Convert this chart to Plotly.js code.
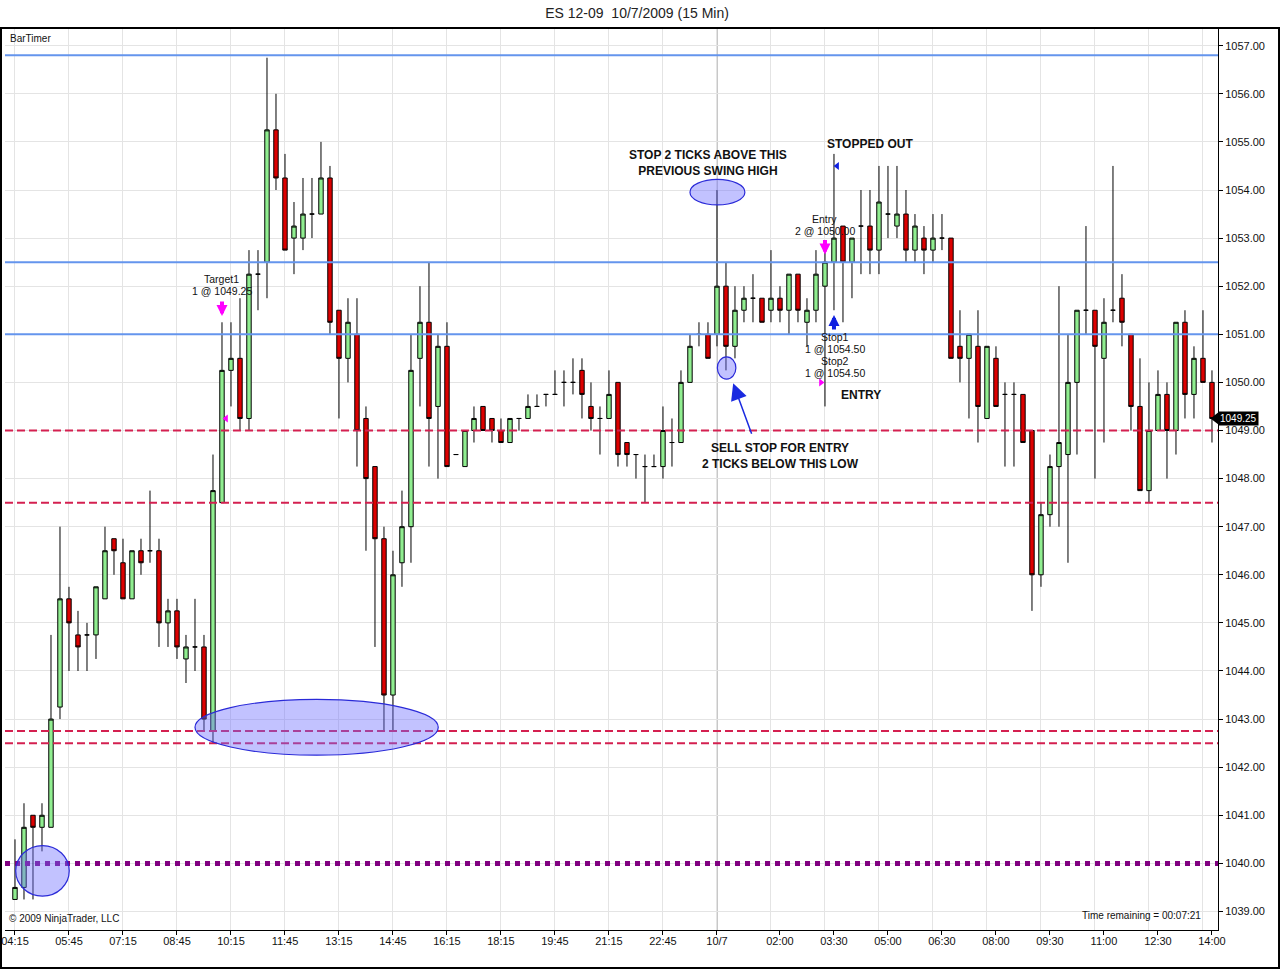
<!DOCTYPE html>
<html><head><meta charset="utf-8">
<script src="https://cdn.plot.ly/plotly-3.0.1.min.js"></script>
<style>html,body{margin:0;padding:0;background:#fff}#chart{width:1280px;height:970px}</style>
</head><body><div id="chart"></div>
<script>
// ---- OHLC data (15 min bars) ----
const openP = [
1039.25,1039.5,1041.0,1040.75,1040.75,1043.25,1045.5,1044.75,1044.75,1044.75,
1045.5,1046.75,1046.25,1045.5,1046.5,1046.5,1046.5,1045.0,1045.25,1044.25,
1044.5,1044.5,1042.75,1047.5,1050.25,1050.5,1049.25,1052.25,1052.5,1055.25,
1054.25,1053.0,1053.0,1053.5,1053.5,1054.25,1051.5,1050.5,1051.0,1049.25,
1048.25,1046.75,1043.5,1046.25,1047.0,1050.5,1051.25,1049.5,1050.75,1048.5,
1048.25,1049.0,1049.5,1049.25,1049.0,1048.75,1049.25,1049.25,1049.5,1049.75,
1049.75,1050.0,1050.0,1050.25,1049.5,1049.25,1049.25,1050.0,1048.75,1048.5,
1048.25,1048.25,1048.25,1048.75,1048.75,1050.0,1051.0,1051.0,1051.0,1052.0,
1050.75,1051.5,1051.75,1051.75,1051.5,1051.75,1051.5,1052.25,1051.25,1051.5,
1052.0,1052.5,1053.25,1052.5,1053.25,1053.25,1052.75,1053.5,1053.25,1053.5,
1052.75,1053.0,1052.75,1053.0,1053.0,1050.75,1050.5,1050.75,1049.25,1050.5,
1049.75,1049.75,1049.75,1049.0,1046.0,1047.25,1048.25,1048.5,1050.0,1051.5,
1051.5,1050.5,1051.5,1051.75,1051.0,1049.5,1047.75,1049.0,1049.75,1049.0,
1051.25,1049.75,1050.5,1050.0];
const highP = [
1040.5,1041.25,1041.0,1041.25,1044.75,1047.0,1045.75,1045.25,1045.0,1045.75,
1047.0,1046.75,1046.75,1046.5,1046.75,1047.75,1046.75,1045.5,1045.5,1044.75,
1045.5,1044.75,1048.5,1051.25,1051.25,1051.75,1052.75,1052.75,1056.75,1056.0,
1054.75,1053.75,1054.25,1054.25,1055.0,1054.5,1051.5,1051.75,1051.75,1049.5,
1048.25,1047.0,1046.5,1047.75,1051.0,1052.0,1052.5,1051.0,1051.25,1048.5,
1049.0,1049.5,1049.5,1049.25,1049.25,1049.25,1049.25,1049.75,1049.75,1049.75,
1050.25,1050.25,1050.5,1050.5,1050.0,1049.5,1050.25,1050.0,1048.75,1048.5,
1048.5,1048.5,1049.5,1049.25,1050.25,1051.0,1051.25,1051.25,1054.0,1052.5,
1052.0,1052.0,1052.25,1051.75,1052.75,1052.0,1052.25,1052.25,1051.75,1052.75,
1052.75,1054.75,1053.25,1053.0,1054.0,1054.0,1054.5,1054.5,1054.5,1054.0,
1053.5,1053.25,1053.5,1053.5,1053.0,1051.5,1051.0,1051.5,1050.75,1050.75,
1050.0,1050.0,1049.75,1049.0,1047.5,1048.5,1052.0,1051.0,1051.5,1053.25,
1051.5,1051.75,1054.5,1052.25,1051.0,1050.5,1050.0,1050.25,1050.0,1051.25,
1051.5,1050.75,1051.5,1050.25];
const lowP = [
1039.25,1039.25,1039.25,1040.25,1040.75,1043.0,1044.0,1044.0,1044.0,1044.25,
1045.5,1046.0,1045.5,1045.5,1046.0,1046.25,1044.5,1044.5,1044.25,1043.75,
1044.0,1042.75,1042.5,1047.5,1049.5,1049.0,1049.0,1051.5,1051.75,1054.0,
1052.75,1052.25,1052.75,1053.0,1053.5,1051.0,1049.25,1050.0,1048.25,1046.5,
1044.5,1042.75,1042.75,1045.75,1046.25,1049.5,1048.25,1048.0,1048.25,1048.5,
1048.25,1048.75,1049.0,1048.75,1048.75,1048.75,1049.0,1049.25,1049.5,1049.5,
1049.75,1049.5,1049.75,1049.25,1049.0,1048.5,1049.25,1048.25,1048.25,1048.0,
1047.5,1048.25,1048.0,1048.25,1048.75,1050.0,1050.75,1050.5,1050.75,1050.25,
1050.5,1051.25,1051.25,1051.25,1051.25,1051.25,1051.0,1051.25,1050.75,1051.25,
1049.5,1051.5,1051.25,1051.75,1052.25,1052.25,1052.25,1053.0,1053.0,1052.5,
1052.5,1052.25,1052.5,1052.75,1050.5,1050.0,1049.25,1048.75,1049.25,1049.5,
1048.25,1048.25,1048.75,1045.25,1045.75,1047.0,1047.0,1046.25,1048.5,1051.0,
1048.0,1048.75,1051.25,1050.75,1049.0,1047.75,1047.5,1049.0,1048.0,1048.5,
1049.25,1049.25,1050.0,1048.75];
const closeP = [
1039.5,1040.75,1040.75,1041.0,1043.0,1045.5,1045.0,1044.5,1044.75,1045.75,
1046.5,1046.5,1045.5,1046.5,1046.25,1046.5,1045.0,1045.25,1044.5,1044.5,
1044.5,1043.0,1047.75,1050.25,1050.5,1049.25,1052.25,1052.25,1055.25,1054.25,
1052.75,1053.25,1053.5,1053.5,1054.25,1051.25,1050.5,1051.25,1049.0,1048.0,
1046.75,1043.5,1046.0,1047.0,1050.25,1051.25,1049.25,1050.75,1048.25,1048.5,
1049.0,1049.25,1049.0,1049.0,1048.75,1049.25,1049.25,1049.5,1049.5,1049.75,
1049.75,1050.0,1050.0,1049.75,1049.25,1049.25,1049.75,1048.5,1048.5,1048.5,
1048.25,1048.25,1049.0,1048.75,1050.0,1050.75,1051.0,1050.5,1052.0,1050.75,
1051.5,1051.75,1051.75,1051.25,1051.75,1051.5,1052.25,1051.5,1051.5,1052.25,
1052.5,1053.0,1052.5,1053.0,1053.25,1052.75,1053.75,1053.5,1053.5,1052.75,
1053.25,1052.75,1053.0,1053.0,1050.5,1050.5,1051.0,1049.5,1050.75,1049.5,
1049.75,1049.75,1048.75,1046.0,1047.25,1048.25,1048.75,1050.0,1051.5,1051.5,
1050.75,1051.25,1051.5,1051.25,1049.5,1047.75,1049.0,1049.75,1049.0,1051.25,
1049.75,1050.5,1050.0,1049.25];

// ---- x axis labels (bar positions) ----
const tickBars   = [0,6,12,18,24,30,36,42,48,54,60,66,72,78,85,91,97,103,109,115,121,127,133];
const tickLabels = ["04:15","05:45","07:15","08:45","10:15","11:45","13:15","14:45","16:15","18:15","19:45","21:15","22:45","10/7","02:00","03:30","05:00","06:30","08:00","09:30","11:00","12:30","14:00"];
const gridBars   = [0,6,12,18,24,30,36,42,48,54,60,66,72,78,84,90,96,102,108,114,120,126,132];
const daySeparatorBar = 78;

// ---- drawn price levels ----
const blueLevels   = [1056.8, 1052.5, 1051.0];
const redLevels    = [1049.0, 1047.5, 1042.75, 1042.5];
const purpleLevels = [1040.0];
const lastPrice = 1049.25;

// ---- execution markers ----
const fillBar    = [23.45, 91.35, 89.55];
const fillPrice  = [1049.25, 1054.5, 1050.0];
const fillSymbol = ["triangle-left","triangle-left","triangle-right"];
const fillColor  = ["#FF00FF","#1020E0","#FF00FF"];

// ---- order arrows (tip positions) ----
const arrowBar   = [23, 90, 91];
const arrowPrice = [1051.38, 1052.66, 1051.4];
const arrowDir   = [-1, -1, 1];  // -1 = pointing down, 1 = pointing up
const arrowColor = ["#FF00FF","#FF00FF","#1020E0"];

const xIdx = openP.map((_, i) => i);
const FONT = "Liberation Sans, Arial, sans-serif";

const traces = [
  {
    type: "candlestick", x: xIdx, open: openP, high: highP, low: lowP, close: closeP,
    increasing: {line: {color: "#000000", width: 1}, fillcolor: "#90EE90"},
    decreasing: {line: {color: "#000000", width: 1}, fillcolor: "#DD0000"},
    whiskerwidth: 0, hoverinfo: "none", showlegend: false
  },
  {
    type: "scatter", mode: "markers", x: fillBar, y: fillPrice, hoverinfo: "none", showlegend: false,
    marker: {symbol: fillSymbol, color: fillColor, size: 7, line: {width: 0}}
  },
  {
    type: "scatter", mode: "markers", x: [133.45], y: [lastPrice], hoverinfo: "none", showlegend: false,
    cliponaxis: false, marker: {symbol: "triangle-left", color: "#000", size: 11, line: {width: 0}}
  }
];

const shapes = [];
// day separator
shapes.push({type: "line", xref: "x", yref: "paper", x0: daySeparatorBar, x1: daySeparatorBar, y0: 0, y1: 1,
  line: {color: "#8A8A8A", width: 1}, layer: "below"});
blueLevels.forEach(v => shapes.push({type: "line", xref: "paper", yref: "y", x0: 0, x1: 1, y0: v, y1: v,
  line: {color: "#6495ED", width: 2}, layer: "above"}));
redLevels.forEach(v => shapes.push({type: "line", xref: "paper", yref: "y", x0: 0, x1: 1, y0: v, y1: v,
  line: {color: "#D42050", width: 2, dash: "8px,4px"}, layer: "above"}));
purpleLevels.forEach(v => shapes.push({type: "line", xref: "paper", yref: "y", x0: 0, x1: 1, y0: v, y1: v,
  line: {color: "#800080", width: 5, dash: "5px,5px"}, layer: "above"}));
// highlight ellipses
const ell = (x0, x1, y0, y1) => ({type: "circle", xref: "x", yref: "y", x0, x1, y0, y1,
  fillcolor: "rgba(110,110,255,0.42)", line: {color: "#2a2ad8", width: 1.2}, layer: "above"});
shapes.push(ell(0.08, 6.03, 1039.32, 1040.37));
shapes.push(ell(20.0, 47.03, 1042.25, 1043.41));
shapes.push(ell(75.0, 81.1, 1053.69, 1054.22));
shapes.push(ell(78.04, 80.1, 1050.07, 1050.53));
// outer frame
shapes.push({type: "rect", xref: "paper", yref: "paper", x0: -0.0033, x1: 1.0503, y0: -0.0421, y1: 1.0,
  line: {color: "#000", width: 2}, fillcolor: "rgba(0,0,0,0)", layer: "above"});

const ann = [];
const txt = (x, y, text, size, bold, extra) => Object.assign({
  x, y, xref: "x", yref: "y", text: bold ? "<b>" + text + "</b>" : text, showarrow: false,
  font: {family: FONT, size, color: "#111"}, xanchor: "center", yanchor: "middle"}, extra || {});
ann.push(txt(77.0, 1054.57, "STOP 2 TICKS ABOVE THIS<br>PREVIOUS SWING HIGH", 12, true));
ann.push(txt(95.0, 1054.96, "STOPPED OUT", 12, true));
ann.push(txt(94.0, 1049.74, "ENTRY", 12, true));
ann.push(txt(85.1, 1048.48, "SELL STOP FOR ENTRY<br>2 TICKS BELOW THIS LOW", 12, true));
ann.push(txt(23.0, 1052.14, "Target1", 10.5, false));
ann.push(txt(23.0, 1051.89, "1 @ 1049.25", 10.5, false));
ann.push(txt(90.0, 1053.40, "Entry", 10.5, false));
ann.push(txt(90.0, 1053.15, "2 @ 1050.00", 10.5, false));
ann.push(txt(91.1, 1050.95, "Stop1", 10.5, false));
ann.push(txt(91.1, 1050.70, "1 @ 1054.50", 10.5, false));
ann.push(txt(91.1, 1050.45, "Stop2", 10.5, false));
ann.push(txt(91.1, 1050.20, "1 @ 1054.50", 10.5, false));
// order arrows (tail offset in px: negative ay puts the tail above the tip)
arrowBar.forEach((b, i) => ann.push({x: b, y: arrowPrice[i], xref: "x", yref: "y", text: "", showarrow: true,
  ax: 0, ay: 16 * arrowDir[i], arrowhead: 2, arrowsize: 0.55, arrowwidth: 4, arrowcolor: arrowColor[i], standoff: 0}));
// pointer arrow to the entry low
ann.push({x: 79.8, y: 1049.98, xref: "x", yref: "y", text: "", showarrow: true, ax: 19, ay: 52,
  arrowhead: 2, arrowsize: 2.2, arrowwidth: 1.5, arrowcolor: "#1a2ae0", standoff: 0});
// paper texts
ann.push({xref: "paper", yref: "paper", x: 0.0025, y: 0.988, text: "BarTimer", showarrow: false,
  xanchor: "left", yanchor: "middle", font: {family: FONT, size: 10, color: "#111"}});
ann.push({xref: "paper", yref: "paper", x: 0.0015, y: 0.0122, text: "© 2009 NinjaTrader, LLC", showarrow: false,
  xanchor: "left", yanchor: "middle", font: {family: FONT, size: 10, color: "#111"}});
ann.push({xref: "paper", yref: "paper", x: 0.9876, y: 0.0166, text: "Time remaining = 00:07:21", showarrow: false,
  xanchor: "right", yanchor: "middle", font: {family: FONT, size: 10, color: "#111"}});
// last price box
ann.push({xref: "paper", yref: "y", x: 1.0, y: lastPrice, text: lastPrice.toFixed(2), showarrow: false,
  xanchor: "left", yanchor: "middle", bgcolor: "#000", borderpad: 1,
  font: {family: FONT, size: 10, color: "#fff"}});

const layout = {
  width: 1280, height: 970,
  margin: {l: 5, r: 62, t: 28, b: 40, autoexpand: false},
  paper_bgcolor: "#fff", plot_bgcolor: "#fff",
  title: {text: "ES 12-09\u00A0 10/7/2009 (15 Min)", x: 0.4977, xanchor: "center", y: 1 - 13/970, yanchor: "middle",
    yref: "container", font: {family: FONT, size: 14, color: "#222"}},
  showlegend: false,
  xaxis: {
    range: [-1.11, 133.67], tickmode: "array", tickvals: tickBars, ticktext: tickLabels,
    ticks: "outside", ticklen: 4, tickcolor: "#000", showgrid: false, zeroline: false,
    showline: true, linecolor: "#000", linewidth: 1, rangeslider: {visible: false},
    tickfont: {family: FONT, size: 11, color: "#111"}, fixedrange: true, ticklabelstandoff: -3,
    minor: {tickmode: "array", tickvals: gridBars, showgrid: true, gridcolor: "#E4E4E4", gridwidth: 1, ticks: ""}
  },
  yaxis: {
    range: [1038.615, 1057.368], side: "right", tickmode: "linear", tick0: 1039, dtick: 1, tickformat: ".2f",
    ticks: "outside", ticklen: 4, tickcolor: "#000", showgrid: true, gridcolor: "#E4E4E4", zeroline: false,
    showline: true, linecolor: "#000", linewidth: 1, tickfont: {family: FONT, size: 11, color: "#111"}, fixedrange: true
  },
  shapes, annotations: ann, hovermode: false
};

Plotly.newPlot("chart", traces, layout, {staticPlot: true, displayModeBar: false});
</script>
</body></html>
